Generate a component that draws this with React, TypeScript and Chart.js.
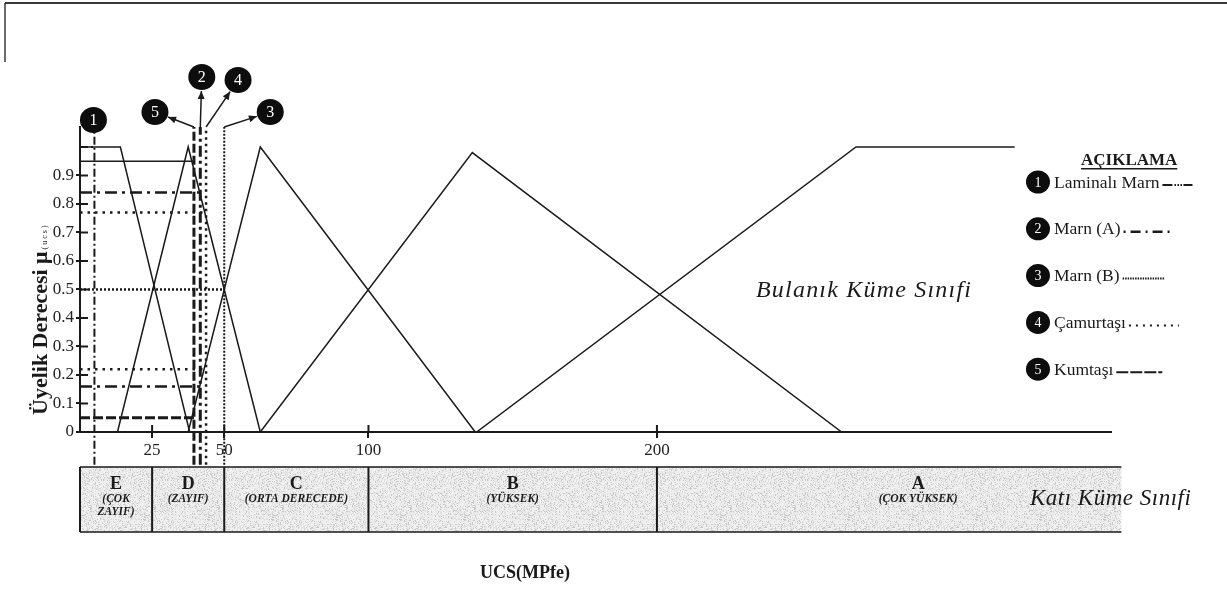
import { useEffect, useRef } from 'react';
import { Chart, registerables } from 'chart.js';

Chart.register(...registerables);

// Fuzzy membership functions of the UCS classes (x: UCS, y: membership degree)
const classE_x = [0, 14, 38];
const classE_y = [1, 1, 0];
const classD_x = [13, 37.5, 62.5];
const classD_y = [0, 1, 0];
const classC_x = [37.5, 62.5, 137];
const classC_y = [0, 1, 0];
const classB_x = [62.5, 136, 264];
const classB_y = [0, 0.98, 0];
const classA_x = [137.5, 269, 324];
const classA_y = [0, 1, 1];

// Rock samples: UCS value and membership degrees read on the fuzzy sets
const rockNumbers = ['1', '2', '3', '4', '5'];
const rockNames = ['Laminalı Marn', 'Marn (A)', 'Marn (B)', 'Çamurtaşı', 'Kumtaşı'];
const rockUcs = [5, 41.7, 50, 43.7, 39.5];
const rockMembership = [[1], [0.84, 0.16], [0.5], [0.77, 0.22], [0.95, 0.05]];

// Crisp classes
const crispBounds = [0, 25, 50, 100, 200, 361];
const crispLetters = ['E', 'D', 'C', 'B', 'A'];
const crispNames = [['(ÇOK', 'ZAYIF)'], ['(ZAYIF)'], ['(ORTA DERECEDE)'], ['(YÜKSEK)'], ['(ÇOK YÜKSEK)']];

// Axis ticks
const xTickValues = [25, 50, 100, 200];
const yTickValues = [0, 0.1, 0.2, 0.3, 0.4, 0.5, 0.6, 0.7, 0.8, 0.9];

// ---- styles / layout ----
const SERIF = '"Liberation Serif", "DejaVu Serif", serif';
const INK = '#1a1a1a';
const X_MAX = 357.4;
const Y_MAX = 1.07;
const Y_BELOW = -0.115; // sample lines run down to the crisp class strip

const rockVertStyle = [
  { dash: [8, 3, 2, 3], width: 2 },
  { dash: [11, 4, 3, 4], width: 3 },
  { dash: [2, 1.5], width: 2 },
  { dash: [2.5, 4], width: 2.5 },
  { dash: [9, 3], width: 3 },
];
const rockGuideStyle = [
  [{ dash: [8, 3, 2, 3], width: 2 }],
  [{ dash: [12, 5, 3, 5], width: 2.5 }, { dash: [12, 5, 3, 5], width: 2.5 }],
  [{ dash: [2, 2], width: 2.5 }],
  [{ dash: [2.5, 5], width: 2.5 }, { dash: [2.5, 5], width: 2.5 }],
  [{ dash: [], width: 1.5 }, { dash: [10, 3], width: 3 }],
];
const legendSample = [
  { dash: [10, 2, 1.5, 1.5, 1.5, 1.5, 1.5, 1.5], width: 2, len: 30 },
  { dash: [2, 5, 10, 5], width: 2.5, len: 46 },
  { dash: [1.5, 1], width: 2, len: 42 },
  { dash: [2, 5], width: 2, len: 50 },
  { dash: [12, 2], width: 2, len: 46 },
];
// callout circle offsets from the top of each sample line (px)
const calloutOffset = [
  { dx: -1, dy: -7, arrow: false },
  { dx: 1.5, dy: -50, arrow: true },
  { dx: 46, dy: -15, arrow: true },
  { dx: 32, dy: -47, arrow: true },
  { dx: -39, dy: -15, arrow: true },
];
const crispLabelShift = [0, 0, 0, 0, 29];

const pts = (xs: number[], ys: number[]) => xs.map((x, i) => ({ x, y: ys[i] }));

function buildDatasets() {
  const ds: any[] = [];
  const fuzzy = [
    pts(classE_x, classE_y),
    pts(classD_x, classD_y),
    pts(classC_x, classC_y),
    pts(classB_x, classB_y),
    pts(classA_x, classA_y),
  ];
  fuzzy.forEach((data) =>
    ds.push({ data, showLine: true, borderColor: INK, borderWidth: 1.5, pointRadius: 0, tension: 0 })
  );
  rockUcs.forEach((u, r) => {
    rockMembership[r].forEach((m, k) => {
      const st = rockGuideStyle[r][k];
      ds.push({
        data: [{ x: 0, y: m }, { x: u, y: m }],
        showLine: true, borderColor: INK, borderWidth: st.width, borderDash: st.dash,
        pointRadius: 0, clip: false,
      });
    });
    const vs = rockVertStyle[r];
    ds.push({
      data: [{ x: u, y: Y_BELOW }, { x: u, y: Y_MAX }],
      showLine: true, borderColor: INK, borderWidth: vs.width, borderDash: vs.dash,
      pointRadius: 0, clip: false,
    });
  });
  return ds;
}

function speckle(): CanvasPattern | string {
  const c = document.createElement('canvas');
  c.width = 64; c.height = 64;
  const g = c.getContext('2d');
  if (!g) return '#e2e2e2';
  const img = g.createImageData(64, 64);
  for (let i = 0; i < 64 * 64; i++) {
    const h = Math.sin(i * 12.9898 + 78.233) * 43758.5453;
    const f = h - Math.floor(h);
    const v = f < 0.14 ? 200 : f < 0.45 ? 226 : 240;
    img.data[i * 4] = v; img.data[i * 4 + 1] = v; img.data[i * 4 + 2] = v; img.data[i * 4 + 3] = 255;
  }
  g.putImageData(img, 0, 0);
  const p = g.createPattern(c, 'repeat');
  return p || '#e2e2e2';
}

function arrowTo(ctx: CanvasRenderingContext2D, x0: number, y0: number, x1: number, y1: number) {
  ctx.save();
  ctx.setLineDash([]);
  ctx.strokeStyle = INK; ctx.fillStyle = INK; ctx.lineWidth = 1.5;
  ctx.beginPath(); ctx.moveTo(x0, y0); ctx.lineTo(x1, y1); ctx.stroke();
  const a = Math.atan2(y1 - y0, x1 - x0);
  const L = 8, W = 3.5;
  ctx.beginPath();
  ctx.moveTo(x1, y1);
  ctx.lineTo(x1 - L * Math.cos(a) + W * Math.sin(a), y1 - L * Math.sin(a) - W * Math.cos(a));
  ctx.lineTo(x1 - L * Math.cos(a) - W * Math.sin(a), y1 - L * Math.sin(a) + W * Math.cos(a));
  ctx.closePath(); ctx.fill();
  ctx.restore();
}

function badge(ctx: CanvasRenderingContext2D, x: number, y: number, r: number, label: string) {
  ctx.save();
  ctx.setLineDash([]);
  ctx.fillStyle = '#0d0d0d';
  ctx.beginPath(); ctx.ellipse(x, y, r + 0.5, r, 0, 0, Math.PI * 2); ctx.fill();
  ctx.fillStyle = '#ffffff';
  ctx.font = `${Math.round(r * 1.2)}px ${SERIF}`;
  ctx.textAlign = 'center'; ctx.textBaseline = 'middle';
  ctx.fillText(label, x, y + 1);
  ctx.restore();
}

const decor = {
  id: 'decor',
  beforeDatasetsDraw(chart: any) {
    const { ctx } = chart;
    const xs = chart.scales.x;
    const ys = chart.scales.y;
    // crisp class strip
    const top = 467, bot = 532;
    const x0 = xs.getPixelForValue(crispBounds[0]);
    const x1 = xs.getPixelForValue(crispBounds[crispBounds.length - 1]);
    ctx.save();
    ctx.fillStyle = speckle();
    ctx.fillRect(x0, top, x1 - x0, bot - top);
    ctx.strokeStyle = INK; ctx.lineWidth = 1.5;
    ctx.beginPath();
    ctx.moveTo(x0, top); ctx.lineTo(x1, top);
    ctx.moveTo(x0, bot); ctx.lineTo(x1, bot);
    ctx.stroke();
    ctx.lineWidth = 2;
    ctx.beginPath();
    for (let i = 0; i < crispBounds.length - 1; i++) {
      const px = xs.getPixelForValue(crispBounds[i]);
      ctx.moveTo(px, top); ctx.lineTo(px, bot);
    }
    ctx.stroke();
    ctx.fillStyle = INK;
    ctx.textAlign = 'center'; ctx.textBaseline = 'middle';
    for (let i = 0; i < crispLetters.length; i++) {
      const cx = (xs.getPixelForValue(crispBounds[i]) + xs.getPixelForValue(crispBounds[i + 1])) / 2 + crispLabelShift[i];
      ctx.font = `bold 18px ${SERIF}`;
      ctx.fillText(crispLetters[i], cx, 484);
      ctx.font = `italic bold 11.5px ${SERIF}`;
      crispNames[i].forEach((s, k) => ctx.fillText(s, cx, 499 + k * 13));
    }
    ctx.restore();

    // inner halves of the axis tick marks
    ctx.save();
    ctx.strokeStyle = INK; ctx.lineWidth = 2;
    ctx.beginPath();
    xTickValues.forEach((v) => {
      const px = xs.getPixelForValue(v);
      ctx.moveTo(px, xs.top); ctx.lineTo(px, xs.top - 7);
    });
    yTickValues.forEach((v) => {
      if (v === 0) return;
      const py = ys.getPixelForValue(v);
      ctx.moveTo(ys.right, py); ctx.lineTo(ys.right + 8, py);
    });
    ctx.stroke();
    ctx.restore();
  },
  afterDraw(chart: any) {
    const { ctx } = chart;
    const xs = chart.scales.x;
    const ys = chart.scales.y;

    // page frame remnants
    ctx.save();
    ctx.strokeStyle = '#3a3a3a';
    ctx.lineWidth = 2;
    ctx.beginPath(); ctx.moveTo(5, 3); ctx.lineTo(1227, 3); ctx.stroke();
    ctx.lineWidth = 1.5;
    ctx.beginPath(); ctx.moveTo(5, 3); ctx.lineTo(5, 62); ctx.stroke();
    ctx.restore();

    // callouts
    const topPx = ys.getPixelForValue(Y_MAX);
    rockUcs.forEach((u, r) => {
      const px = xs.getPixelForValue(u);
      const o = calloutOffset[r];
      const cx = px + o.dx, cy = topPx + o.dy, rad = 13;
      if (o.arrow) {
        const dx = px - cx, dy = topPx - cy;
        const d = Math.hypot(dx, dy);
        const ex = cx + (dx / d) * (rad + 1), ey = cy + (dy / d) * (rad + 1);
        arrowTo(ctx, px, topPx, ex, ey);
      }
      badge(ctx, cx, cy, rad, rockNumbers[r]);
    });

    // legend
    ctx.save();
    ctx.fillStyle = INK;
    ctx.font = `bold 17px ${SERIF}`;
    ctx.textAlign = 'left'; ctx.textBaseline = 'alphabetic';
    const title = 'AÇIKLAMA';
    ctx.fillText(title, 1081, 165);
    const tw = ctx.measureText(title).width;
    ctx.fillRect(1081, 168, tw, 1.5);
    rockNames.forEach((name, r) => {
      const cy = 182 + r * 46.8;
      badge(ctx, 1038, cy, 11.5, rockNumbers[r]);
      ctx.fillStyle = INK;
      ctx.font = `17.5px ${SERIF}`;
      ctx.textBaseline = 'middle';
      ctx.fillText(name, 1054, cy + 1);
      const w = ctx.measureText(name).width;
      const st = legendSample[r];
      ctx.save();
      ctx.strokeStyle = INK; ctx.lineWidth = st.width; ctx.setLineDash(st.dash);
      ctx.beginPath(); ctx.moveTo(1054 + w + 3, cy + 3); ctx.lineTo(1054 + w + 3 + st.len, cy + 3); ctx.stroke();
      ctx.restore();
    });
    ctx.restore();

    // free texts
    ctx.save();
    ctx.fillStyle = INK;
    ctx.textBaseline = 'middle';
    ctx.textAlign = 'left';
    ctx.font = `italic 24px ${SERIF}`;
    (ctx as any).letterSpacing = '1.2px';
    ctx.fillText('Bulanık Küme Sınıfi', 756, 291);
    ctx.font = `italic 23px ${SERIF}`;
    (ctx as any).letterSpacing = '0.5px';
    ctx.fillText('Katı Küme Sınıfi', 1030, 499);
    (ctx as any).letterSpacing = '0px';
    ctx.textAlign = 'center';
    ctx.font = `bold 18px ${SERIF}`;
    ctx.fillText('UCS(MPfe)', 525, 573);

    // y axis title
    ctx.translate(41, 415);
    ctx.rotate(-Math.PI / 2);
    ctx.textAlign = 'left';
    ctx.font = `bold 22px ${SERIF}`;
    const yt = 'Üyelik Derecesi μ';
    ctx.fillText(yt, 0, 0);
    const yw = ctx.measureText(yt).width;
    ctx.font = `8px ${SERIF}`;
    ctx.fillText('( u c s )', yw + 2, 4);
    ctx.restore();
  },
};

export default function App() {
  const ref = useRef<HTMLCanvasElement | null>(null);
  useEffect(() => {
    if (!ref.current) return;
    const tickFont = { family: SERIF, size: 17 };
    const chart = new Chart(ref.current, {
      type: 'scatter',
      data: { datasets: buildDatasets() },
      options: {
        animation: false,
        responsive: false,
        devicePixelRatio: 1,
        layout: { padding: { top: 127, right: 116, left: 0, bottom: 0 } },
        plugins: { legend: { display: false }, tooltip: { enabled: false } },
        scales: {
          x: {
            type: 'linear',
            min: 0,
            max: X_MAX,
            afterBuildTicks: (s: any) => { s.ticks = xTickValues.map((v) => ({ value: v })); },
            afterFit: (s: any) => { s.height = 157; },
            border: { display: true, color: INK, width: 2 },
            grid: { drawOnChartArea: false, drawTicks: true, tickLength: 6, color: INK, tickColor: INK, lineWidth: 2 },
            ticks: { font: tickFont, color: '#222', padding: 2, maxRotation: 0, callback: (v: any) => String(v) },
          },
          y: {
            type: 'linear',
            min: 0,
            max: Y_MAX,
            afterBuildTicks: (s: any) => { s.ticks = yTickValues.map((v) => ({ value: v })); },
            afterFit: (s: any) => { s.width = 80; },
            border: { display: true, color: INK, width: 2 },
            grid: { drawOnChartArea: false, drawTicks: true, tickLength: 4, color: INK, tickColor: INK, lineWidth: 2 },
            ticks: {
              font: tickFont, color: '#222', padding: 2,
              callback: (v: any) => (Number(v) === 0 ? '0' : Number(v).toFixed(1)),
            },
          },
        },
      },
      plugins: [decor],
    } as any);
    return () => chart.destroy();
  }, []);
  return (
    <div style={{ position: 'absolute', left: 0, top: 0, width: 1227, height: 589, background: '#fff' }}>
      <canvas ref={ref} width={1227} height={589} style={{ display: 'block', width: 1227, height: 589 }} />
    </div>
  );
}
